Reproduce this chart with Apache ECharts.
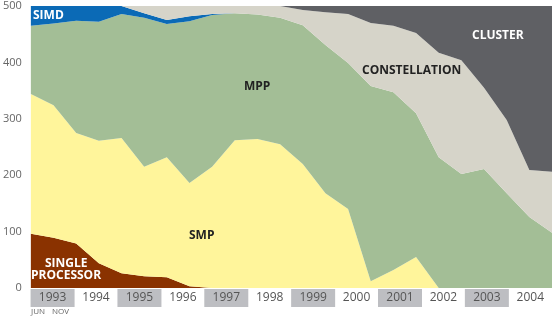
<!DOCTYPE html>
<html>
<head>
<meta charset="utf-8">
<script src="https://cdn.jsdelivr.net/npm/echarts@6/dist/echarts.min.js"></script>
<style>
  html, body { margin: 0; padding: 0; background: #fff; }
  #chart { width: 555px; height: 319px; }
</style>
</head>
<body>
<div id="chart"></div>
<script>
// semiannual lists: Jun / Nov, 1993 - 2004
const periods = []
for (let y = 1993; y <= 2004; y++) { periods.push('Jun ' + y); periods.push('Nov ' + y) }
const years = ['1993', '1994', '1995', '1996', '1997', '1998', '1999', '2000', '2001', '2002', '2003', '2004']
const yTicks = [0, 100, 200, 300, 400, 500]

const singleProc = [96, 89, 79, 44, 26, 21, 19, 3, 0, 0, 0, 0, 0, 0, 0, 0, 0, 0, 0, 0, 0, 0, 0, 0]
const smp = [248, 235, 196, 217, 240, 194, 213, 183, 215, 262, 264, 255, 220, 168, 140, 12, 32, 55, 0, 0, 0, 0, 0, 0]
const mpp = [121, 145, 199, 211, 220, 264, 236, 287, 269, 225, 221, 224, 246, 263, 259, 346, 315, 255, 232, 202, 211, 168, 126, 98]
const simd = [35, 31, 26, 28, 14, 8, 7, 9, 2, 0, 0, 0, 0, 0, 0, 0, 0, 0, 0, 0, 0, 0, 0, 0]
const constellation = [0, 0, 0, 0, 0, 13, 25, 18, 14, 13, 15, 21, 27, 58, 87, 112, 118, 142, 185, 202, 144, 130, 83, 108]
const cluster = [0, 0, 0, 0, 0, 0, 0, 0, 0, 0, 0, 0, 7, 11, 14, 30, 35, 48, 83, 96, 145, 202, 291, 294]

const chart = echarts.init(document.getElementById('chart'))
const font = '"Open Sans", "Noto Sans", sans-serif'

function area(name, data, color) {
  return {
    name: name,
    type: 'line',
    stack: 'arch',
    data: data,
    symbol: 'none',
    lineStyle: { width: 0 },
    areaStyle: { color: color, opacity: 1 },
    itemStyle: { color: color },
    silent: true
  }
}

function label(text, left, top, color) {
  return {
    type: 'text', left: left, top: top, z: 100,
    style: { text: text, fill: color, font: 'bold 12px ' + font }
  }
}

const option = {
  animation: false,
  grid: { left: 27, right: 0, top: 6, bottom: 31 },
  xAxis: [{
    type: 'category',
    data: periods,
    boundaryGap: false,
    axisLine: { show: false },
    axisTick: { show: false },
    axisLabel: { show: false }
  }, {
    type: 'category',
    data: years,
    position: 'bottom',
    boundaryGap: true,
    axisLine: { show: false },
    axisTick: { show: false },
    axisLabel: {
      interval: 0,
      margin: 1,
      formatter: function(v, i) {
        return (i % 2 === 0 ? '{g|' : '{w|') + v + '}'
      },
      rich: {
        g: { backgroundColor: '#bdbec2', width: 44, height: 18, lineHeight: 18, align: 'center', color: '#555', fontSize: 12, fontFamily: font },
        w: { width: 44, height: 18, lineHeight: 18, align: 'center', color: '#555', fontSize: 12, fontFamily: font }
      }
    }
  }],
  yAxis: {
    type: 'value',
    min: yTicks[0],
    max: yTicks[yTicks.length - 1],
    interval: 100,
    axisLine: { show: false },
    axisTick: { show: false },
    splitLine: { show: false },
    axisLabel: { margin: 9, color: '#666', fontSize: 11, fontFamily: font }
  },
  series: [
    area('Single Processor', singleProc, '#8a3200'),
    area('SMP', smp, '#fff59b'),
    area('MPP', mpp, '#a3be96'),
    area('SIMD', simd, '#0b6ab6'),
    area('Constellation', constellation, '#d6d4c9'),
    area('Cluster', cluster, '#5f6064')
  ],
  graphic: [
    label('SIMD', 33, 10, '#fff'),
    label('MPP', 244, 81, '#222'),
    label('CONSTELLATION', 362, 65, '#222'),
    label('CLUSTER', 472, 30, '#fff'),
    label('SMP', 189, 230, '#222'),
    label('SINGLE', 45, 258, '#fff'),
    label('PROCESSOR', 31, 270, '#fff'),
    {
      type: 'text', left: 31, top: 308, z: 100,
      style: { text: 'JUN', fill: '#666', font: '8px ' + font }
    },
    {
      type: 'text', left: 52, top: 308, z: 100,
      style: { text: 'NOV', fill: '#666', font: '8px ' + font }
    }
  ]
}

chart.setOption(option)
</script>
</body>
</html>
